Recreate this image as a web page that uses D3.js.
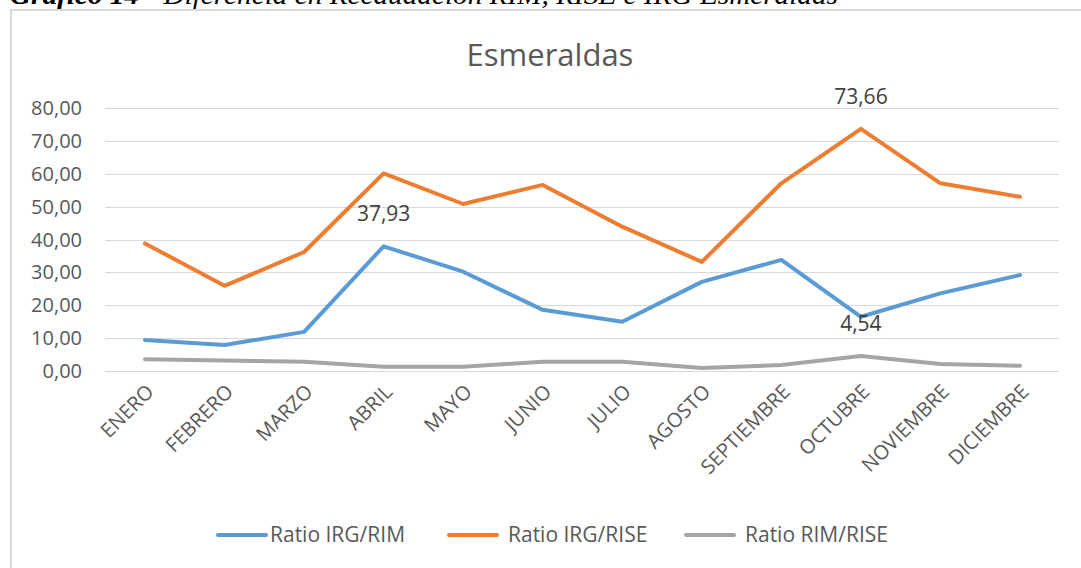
<html>
<head>
    <title>Esmeraldas</title>
</head>
<body style="margin: 0; background: #fff;">
    <svg style="position: absolute; left: 0; top: 0;"></svg>
</body>

<script src="https://cdn.jsdelivr.net/npm/d3@7"></script>
<script>
const width = 1081;
const height = 568;

const months = ['ENERO', 'FEBRERO', 'MARZO', 'ABRIL', 'MAYO', 'JUNIO', 'JULIO',
    'AGOSTO', 'SEPTIEMBRE', 'OCTUBRE', 'NOVIEMBRE', 'DICIEMBRE'];
const irgRim  = [9.4, 7.9, 11.9, 37.93, 30.2, 18.6, 15.0, 27.1, 33.8, 16.5, 23.6, 29.2];
const irgRise = [38.8, 25.9, 36.2, 60.1, 50.8, 56.6, 43.9, 33.2, 57.1, 73.66, 57.1, 53.0];
const rimRise = [3.6, 3.2, 2.8, 1.3, 1.3, 2.8, 2.8, 0.9, 1.8, 4.54, 2.1, 1.6];
const yTicks = [0, 10, 20, 30, 40, 50, 60, 70, 80];

const series = [
    {name: 'Ratio IRG/RIM',  values: irgRim,  color: '#5b9bd5', label: 3},
    {name: 'Ratio IRG/RISE', values: irgRise, color: '#ed7d31', label: 9},
    {name: 'Ratio RIM/RISE', values: rimRise, color: '#a5a5a5', label: 9},
];

const font = '"Open Sans", sans-serif';
const fmt = v => v.toFixed(2).replace('.', ',');

const svg = d3.select('svg')
    .attr('width', width)
    .attr('height', height)
    .style('font-family', font);

// caption cut at the top of the page
svg.append('text')
    .attr('x', 10).attr('y', 4)
    .attr('textLength', 828)
    .attr('lengthAdjust', 'spacingAndGlyphs')
    .style('font-family', '"Liberation Serif", serif')
    .style('font-style', 'italic')
    .style('font-size', '27px')
    .attr('fill', '#000')
    .html('<tspan font-weight="bold">Gráfico 14 - </tspan>Diferencia en Recaudación RIM, RISE e IRG Esmeraldas');

// chart frame (runs past the right and bottom edges)
svg.append('rect')
    .attr('x', 11).attr('y', 10)
    .attr('width', 1100).attr('height', 600)
    .attr('fill', 'none')
    .attr('stroke', '#d9d9d9')
    .attr('stroke-width', 2);

const x = d3.scalePoint().domain(months).range([145, 1020]);
const y = d3.scaleLinear().domain([0, 80]).range([371, 108]);

svg.append('text')
    .attr('x', 550).attr('y', 66)
    .attr('text-anchor', 'middle')
    .style('font-size', '31px')
    .attr('fill', '#595959')
    .text('Esmeraldas');

svg.append('g')
    .selectAll('line')
    .data(yTicks)
    .join('line')
        .attr('x1', 105).attr('x2', 1059)
        .attr('y1', d => Math.round(y(d)) + .5)
        .attr('y2', d => Math.round(y(d)) + .5)
        .attr('stroke', '#d9d9d9')
        .attr('stroke-width', 1);

svg.append('g')
    .selectAll('text')
    .data(yTicks)
    .join('text')
        .attr('x', 82)
        .attr('y', d => y(d) + 7)
        .attr('text-anchor', 'end')
        .style('font-size', '20px')
        .attr('fill', '#595959')
        .text(d => fmt(d));

svg.append('g')
    .selectAll('text')
    .data(months)
    .join('text')
        .attr('transform', d => `translate(${x(d) + 10},${393}) rotate(-45)`)
        .attr('text-anchor', 'end')
        .style('font-size', '20px')
        .attr('fill', '#595959')
        .text(d => d);

const line = d3.line()
    .x((d, i) => x(months[i]))
    .y(d => y(d));

svg.append('g')
    .selectAll('path')
    .data(series)
    .join('path')
        .attr('d', d => line(d.values))
        .attr('fill', 'none')
        .attr('stroke', d => d.color)
        .attr('stroke-width', 4)
        .attr('stroke-linejoin', 'round')
        .attr('stroke-linecap', 'round');

svg.append('g')
    .selectAll('text')
    .data(series)
    .join('text')
        .attr('x', d => x(months[d.label]))
        .attr('y', d => y(d.values[d.label]) - 25)
        .attr('text-anchor', 'middle')
        .style('font-size', '21px')
        .attr('fill', '#404040')
        .text(d => fmt(d.values[d.label]));

const legendX = [218, 449, 686];
const legendText = [270, 508, 745];
const legend = svg.append('g')
    .selectAll('g')
    .data(series)
    .join('g');

legend.append('line')
    .attr('x1', (d, i) => legendX[i]).attr('x2', (d, i) => legendX[i] + 48)
    .attr('y1', 535).attr('y2', 535)
    .attr('stroke', d => d.color)
    .attr('stroke-width', 4)
    .attr('stroke-linecap', 'round');

legend.append('text')
    .attr('x', (d, i) => legendText[i]).attr('y', 542)
    .style('font-size', '21px')
    .attr('fill', '#595959')
    .text(d => d.name);
</script>
</html>
